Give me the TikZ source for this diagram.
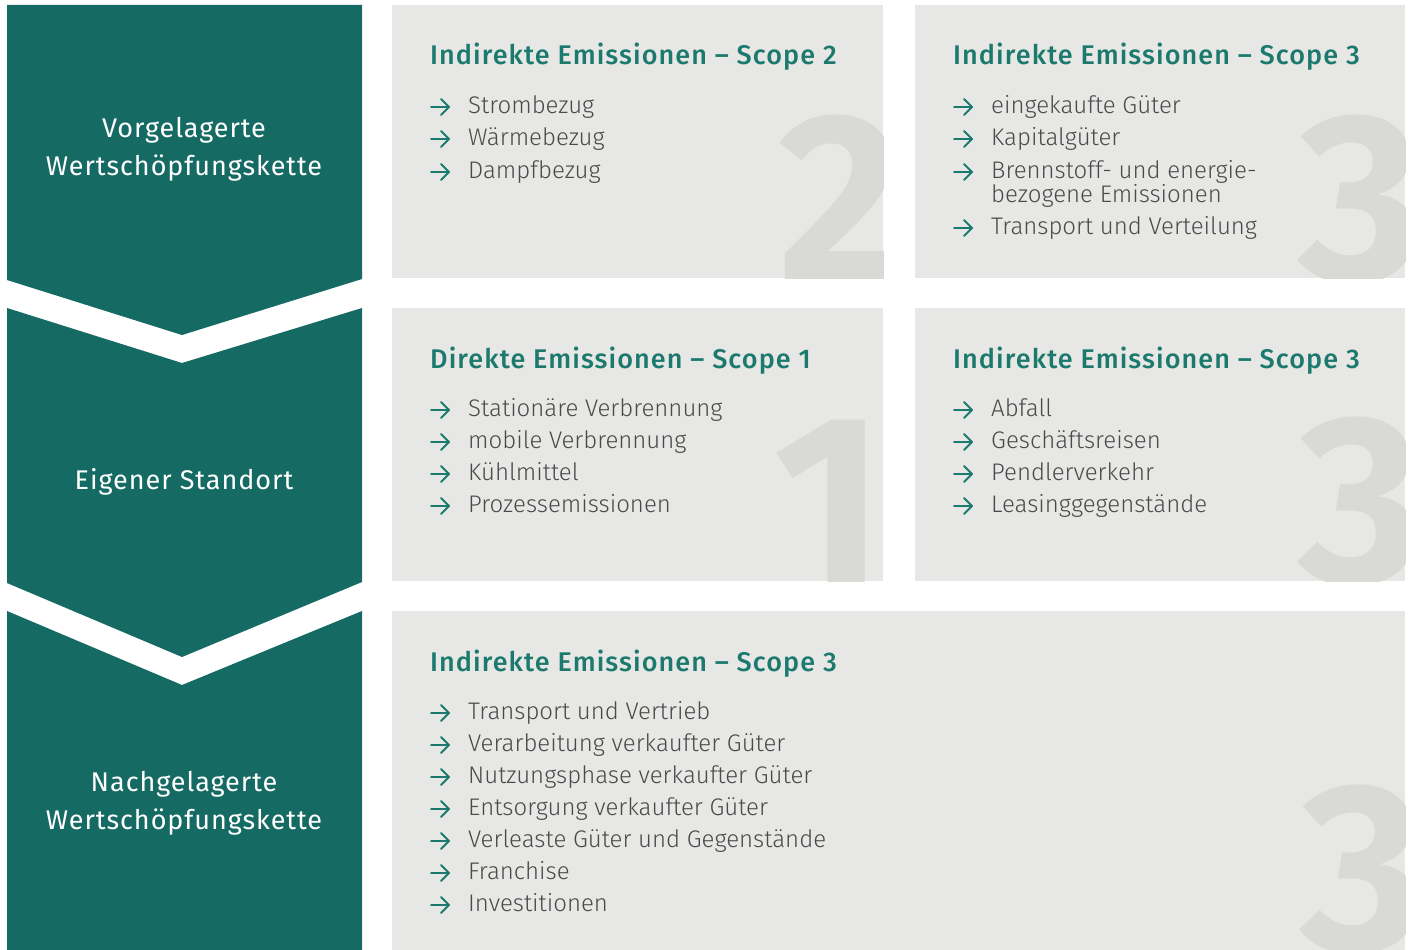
\documentclass[tikz,border=0pt]{standalone}
\usepackage{fontspec}
\setmainfont{Fira Sans}
\newfontfamily\lightf{Fira Sans Light}
\newfontfamily\medf[LetterSpace=4]{Fira Sans Medium}
\newfontfamily\lblf[LetterSpace=3.5]{Fira Sans}
\definecolor{chev}{HTML}{156B63}
\definecolor{ttlc}{HTML}{1B7A6D}
\definecolor{boxg}{HTML}{E7E7E5}
\definecolor{numc}{HTML}{D9D9D6}
\definecolor{txtc}{HTML}{4A4A4A}
\newcommand{\myitem}[4]{%
  \draw[arr] (#2-37,#3-6) -- (#2-19,#3-6);
  \draw[arr] (#2-27,#3-14) -- (#2-19,#3-6) -- (#2-27,#3+2);
  \node[itm] (#1) at (#2,#3) {#4};}
\begin{document}
\begin{tikzpicture}[x=1pt,y=-1pt,
  chevron/.style={fill=chev, draw=none},
  panel/.style={fill=boxg, draw=none},
  ttl/.style={anchor=base west, inner sep=0pt, text=ttlc, font=\medf\fontsize{27}{30}\selectfont},
  itm/.style={anchor=base west, inner sep=0pt, text=txtc, font=\lightf\fontsize{24}{24}\selectfont},
  bignum/.style={anchor=base west, inner sep=0pt, text=numc, font=\bfseries\fontsize{240}{240}\selectfont},
  lbl/.style={text=white, align=center, font=\lblf\fontsize{27}{38}\selectfont},
  arr/.style={draw=ttlc, line width=2pt, line cap=round, line join=round}]
\useasboundingbox[fill=white] (0,0) rectangle (1411,950);
% chevrons
\fill[chevron] (7,5) -- (362,5) -- (362,279) -- (182,335) -- (7,280) -- cycle;
\fill[chevron] (7,308) -- (182,363) -- (362,308) -- (362,582) -- (182,657) -- (7,583) -- cycle;
\fill[chevron] (7,611) -- (182,685) -- (362,611) -- (362,950) -- (7,950) -- cycle;
\node[lbl] (up) at (184,149) {Vorgelagerte\\Wertschöpfungskette};
\node[lbl] (own) at (184,482) {Eigener Standort};
\node[lbl] (down) at (184,803) {Nachgelagerte\\Wertschöpfungskette};
% panels
\fill[panel] (392,5) rectangle (883,278);
\fill[panel] (915,5) rectangle (1405,278);
\fill[panel] (392,308) rectangle (883,581);
\fill[panel] (915,308) rectangle (1405,581);
\fill[panel] (392,611) rectangle (1405,950);
% big numerals
\begin{scope}\clip (392,5) rectangle (883,278);
\node[bignum] (n2) at (778,280) {2};\end{scope}
\begin{scope}\clip (915,5) rectangle (1405,278);
\node[bignum] (n3a) at (1298,280) {3};\end{scope}
\begin{scope}\clip (392,308) rectangle (883,581);
\node[bignum] (n1) at (773,582) {1};\end{scope}
\begin{scope}\clip (915,308) rectangle (1405,581);
\node[bignum] (n3b) at (1298,582) {3};\end{scope}
\begin{scope}\clip (392,611) rectangle (1405,950);
\node[bignum] (n3c) at (1300,950) {3};\end{scope}
% box 1
\node[ttl] (t1) at (430,65) {Indirekte Emissionen – Scope 2};
\myitem{a1}{468}{113}{Strombezug}
\myitem{a2}{468}{145}{Wärmebezug}
\myitem{a3}{468}{178}{Dampfbezug}
% box 2
\node[ttl] (t2) at (953,65) {Indirekte Emissionen – Scope 3};
\myitem{b1}{991}{113}{eingekaufte Güter}
\myitem{b2}{991}{145}{Kapitalgüter}
\myitem{b3}{991}{178}{Brennstoff- und energie-}
\node[itm] (b3b) at (991,202) {bezogene Emissionen};
\myitem{b4}{991}{234}{Transport und Verteilung}
% box 3
\node[ttl] (t3) at (430,368) {Direkte Emissionen – Scope 1};
\myitem{c1}{468}{416}{Stationäre Verbrennung}
\myitem{c2}{468}{448}{mobile Verbrennung}
\myitem{c3}{468}{480}{Kühlmittel}
\myitem{c4}{468}{512}{Prozessemissionen}
% box 4
\node[ttl] (t4) at (953,368) {Indirekte Emissionen – Scope 3};
\myitem{d1}{991}{416}{Abfall}
\myitem{d2}{991}{448}{Geschäftsreisen}
\myitem{d3}{991}{480}{Pendlerverkehr}
\myitem{d4}{991}{512}{Leasinggegenstände}
% box 5
\node[ttl] (t5) at (430,671) {Indirekte Emissionen – Scope 3};
\myitem{e1}{468}{719}{Transport und Vertrieb}
\myitem{e2}{468}{751}{Verarbeitung verkaufter Güter}
\myitem{e3}{468}{783}{Nutzungsphase verkaufter Güter}
\myitem{e4}{468}{815}{Entsorgung verkaufter Güter}
\myitem{e5}{468}{847}{Verleaste Güter und Gegenstände}
\myitem{e6}{468}{879}{Franchise}
\myitem{e7}{468}{911}{Investitionen}
\end{tikzpicture}
\end{document}
